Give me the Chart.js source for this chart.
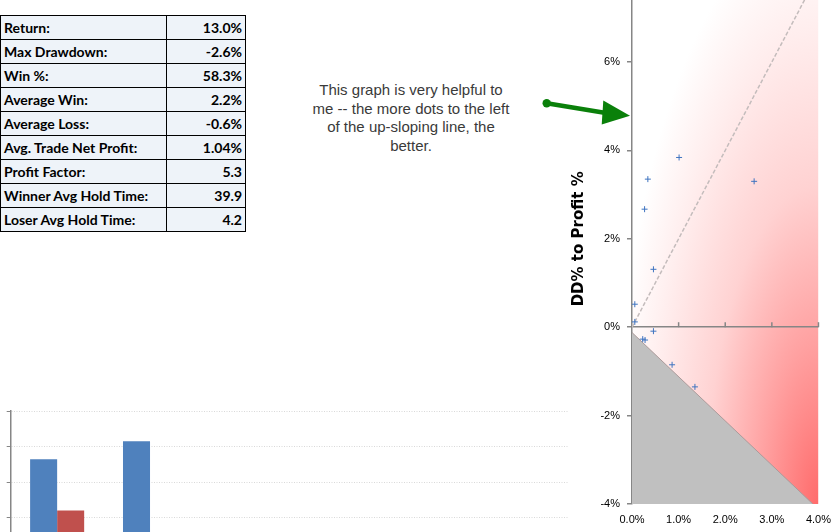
<!DOCTYPE html>
<html>
<head>
<meta charset="utf-8">
<title>DD% to Profit %</title>
<script src="https://cdn.jsdelivr.net/npm/chart.js@4.4.1/dist/chart.umd.min.js"></script>
<style>
    html, body { margin: 0; padding: 0; background: #fff; }
    body { position: relative; width: 840px; height: 532px; overflow: hidden; }
    .stats { position: absolute; left: 0; top: 15px; border-collapse: collapse; width: 246px;
             font-family: Lato, 'Liberation Sans', sans-serif; font-weight: bold; font-size: 14px; color: #000; }
    .stats td { border: 1px solid #000; background: #eef3f9; height: 24px; padding: 0 3px; box-sizing: border-box; white-space: nowrap; }
    .stats td.val { text-align: right; width: 79px; }
    .note { position: absolute; left: 301px; top: 81px; width: 220px; text-align: center;
            font-family: 'Liberation Sans', Arial, sans-serif; font-size: 15px; line-height: 18.7px; color: #3a3a3a; }
    #scatterBox { position: absolute; left: 560px; top: -40px; }
    #barBox { position: absolute; left: -80px; top: 395px; }
    .arrow { position: absolute; left: 0; top: 0; z-index: 5; }
</style>
</head>
<body>
<table class="stats" id="stats"></table>

<div class="note">This graph is very helpful to<br>me -- the more dots to the left<br>of the up-sloping line, the<br>better.</div>

<div id="barBox"><canvas id="barChart" width="648" height="188"></canvas></div>
<div id="scatterBox"><canvas id="scatterChart" width="280" height="580"></canvas></div>

<svg class="arrow" width="840" height="532">
    <line x1="546.7" y1="103.3" x2="606" y2="113" stroke="#0a800a" stroke-width="4.5"/>
    <circle cx="546.7" cy="103.3" r="4.2" fill="#0a800a"/>
    <polygon points="603.3,100.5 630,115.7 601.7,124.5" fill="#0a800a"/>
</svg>

<script>
// summary table
const statLabels = ['Return:', 'Max Drawdown:', 'Win %:', 'Average Win:', 'Average Loss:',
    'Avg. Trade Net Profit:', 'Profit Factor:', 'Winner Avg Hold Time:', 'Loser Avg Hold Time:'];
const statValues = ['13.0%', '-2.6%', '58.3%', '2.2%', '-0.6%', '1.04%', '5.3', '39.9', '4.2'];

// scatter: drawdown % (x) vs profit % (y) per trade
const ddPct     = [1.01, 0.34, 2.62, 0.27, 0.46, 0.06, 0.06, 0.46, 0.23, 0.28, 0.86, 1.35];
const profitPct = [3.84, 3.35, 3.30, 2.67, 1.31, 0.52, 0.12, -0.09, -0.27, -0.29, -0.85, -1.35];

// reference line (profit = 2 x drawdown) and loss edge
const refLineX = [0, 4];
const refLineY = [0, 8];
const lossEdgeX = [0, 3.88];
const lossEdgeY = [-0.12, -4];

const ddTicks = [0, 1, 2, 3, 4];
const profitTicks = [-4, -2, 0, 2, 4, 6, 8];

// bar chart at the bottom (cropped)
const barCategories = ['1', '2', '3', '4', '5', '6'];
const winBars  = [2.64, 3.15, null, null, null, null];
const lossBars = [1.20, null, null, null, null, null];

const AXIS_GREY = '#868686';
const TICK_FONT = { family: "'Liberation Sans', Arial, sans-serif", size: 11 };

class TradeCharts {
    constructor() {
        this.fillTable();
        this.setupScatter();
        this.setupBars();
    }

    fillTable() {
        const table = document.getElementById('stats');
        table.innerHTML = statLabels.map((label, i) => `
            <tr><td>${label}</td><td class="val">${statValues[i]}</td></tr>
        `).join('');
    }

    setupScatter() {
        // red glow from the bottom-right corner, white toward the top-left
        const bgGradient = {
            id: 'bgGradient',
            beforeDraw(chart) {
                const { ctx, chartArea: a } = chart;
                const W = a.right - a.left;
                const H = a.bottom - a.top;
                const R = 1.2;
                ctx.save();
                ctx.beginPath();
                ctx.rect(a.left, a.top, W, H);
                ctx.clip();
                ctx.translate(a.right, a.bottom);
                ctx.scale(W, H);
                const g = ctx.createRadialGradient(0, 0, 0, 0, 0, R);
                g.addColorStop(0, '#ff6b6b');
                g.addColorStop(0.3 / R, '#ffa0a0');
                g.addColorStop(0.6 / R, '#ffd2d2');
                g.addColorStop(0.9 / R, '#ffeeee');
                g.addColorStop(1.1 / R, '#ffffff');
                g.addColorStop(1, '#ffffff');
                ctx.fillStyle = g;
                ctx.fillRect(-1, -1, 1, 1);
                ctx.restore();
            }
        };

        // small tick marks on the zero line
        const zeroTicks = {
            id: 'zeroTicks',
            afterDatasetsDraw(chart) {
                const { ctx, scales: { x, y } } = chart;
                const y0 = y.getPixelForValue(0);
                ctx.save();
                ctx.strokeStyle = AXIS_GREY;
                ctx.lineWidth = 1.5;
                x.ticks.forEach(t => {
                    if (t.value === 0) return;
                    const px = x.getPixelForValue(t.value);
                    ctx.beginPath();
                    ctx.moveTo(px, y0 - 5);
                    ctx.lineTo(px, y0);
                    ctx.stroke();
                });
                ctx.restore();
            }
        };

        const ctx = document.getElementById('scatterChart');
        this.scatterChart = new Chart(ctx, {
            type: 'scatter',
            data: {
                datasets: [{
                    label: 'Trades',
                    data: ddPct.map((x, i) => ({ x, y: profitPct[i] })),
                    pointStyle: 'cross',
                    pointRadius: 3,
                    borderColor: '#3f74c0',
                    borderWidth: 1
                }, {
                    type: 'line',
                    label: 'Profit = 2 x DD',
                    data: refLineX.map((x, i) => ({ x, y: refLineY[i] })),
                    borderColor: '#c4bcbc',
                    borderWidth: 1.5,
                    borderDash: [4, 2],
                    pointRadius: 0,
                    fill: false
                }, {
                    type: 'line',
                    label: 'Loss edge',
                    data: lossEdgeX.map((x, i) => ({ x, y: lossEdgeY[i] })),
                    borderColor: '#ab9a9a',
                    borderWidth: 1,
                    backgroundColor: '#c0c0c0',
                    pointRadius: 0,
                    fill: 'start'
                }]
            },
            options: {
                responsive: false,
                animation: false,
                layout: { padding: { left: 0, right: 18, top: 10, bottom: 6 } },
                plugins: { legend: { display: false }, tooltip: { enabled: false } },
                scales: {
                    x: {
                        type: 'linear',
                        min: 0,
                        max: 4,
                        afterBuildTicks: s => { s.ticks = ddTicks.map(value => ({ value })); },
                        ticks: { callback: v => v.toFixed(1) + '%', color: '#000', font: TICK_FONT, padding: 9 },
                        grid: { display: false, drawTicks: false },
                        border: { display: false },
                        afterFit: s => { s.height = 30; }
                    },
                    y: {
                        min: -4,
                        max: 8,
                        afterBuildTicks: s => { s.ticks = profitTicks.map(value => ({ value })); },
                        ticks: { callback: v => v + '%', color: '#000', font: TICK_FONT, padding: 7 },
                        grid: {
                            color: c => (c.tick && c.tick.value === 0) ? AXIS_GREY : 'rgba(0,0,0,0)',
                            lineWidth: 1.5,
                            tickLength: 5,
                            tickColor: AXIS_GREY
                        },
                        border: { display: true, color: AXIS_GREY, width: 1.5 },
                        title: {
                            display: true,
                            text: 'DD% to Profit %',
                            color: '#000',
                            font: { family: "'DejaVu Sans', Verdana, sans-serif", size: 15, weight: 'bold' },
                            padding: { top: 10, bottom: 0 }
                        },
                        afterFit: s => { s.width = 72; }
                    }
                }
            },
            plugins: [bgGradient, zeroTicks]
        });
    }

    setupBars() {
        const ctx = document.getElementById('barChart');
        this.barChart = new Chart(ctx, {
            type: 'bar',
            data: {
                labels: barCategories,
                datasets: [{
                    label: 'Winners',
                    data: winBars,
                    backgroundColor: '#4f81bd'
                }, {
                    label: 'Losers',
                    data: lossBars,
                    backgroundColor: '#c0504d'
                }]
            },
            options: {
                responsive: false,
                animation: false,
                layout: { padding: { left: 0, right: 0, top: 16, bottom: 0 } },
                plugins: { legend: { display: false }, tooltip: { enabled: false } },
                datasets: { bar: { categoryPercentage: 0.582, barPercentage: 1.0 } },
                scales: {
                    x: {
                        grid: { display: false },
                        border: { display: false },
                        ticks: { color: '#000', font: TICK_FONT },
                        afterFit: s => { s.height = 30; }
                    },
                    y: {
                        min: 0,
                        max: 4,
                        ticks: { stepSize: 1, color: '#000', font: TICK_FONT, padding: 8 },
                        grid: { color: '#d9d9d9', lineWidth: 1, tickLength: 4, tickColor: AXIS_GREY },
                        border: { display: true, color: AXIS_GREY, width: 1.5, dash: [1, 1.5] },
                        afterFit: s => { s.width = 90.7; }
                    }
                }
            }
        });
    }
}

document.addEventListener('DOMContentLoaded', () => {
    new TradeCharts();
});
</script>
</body>
</html>
